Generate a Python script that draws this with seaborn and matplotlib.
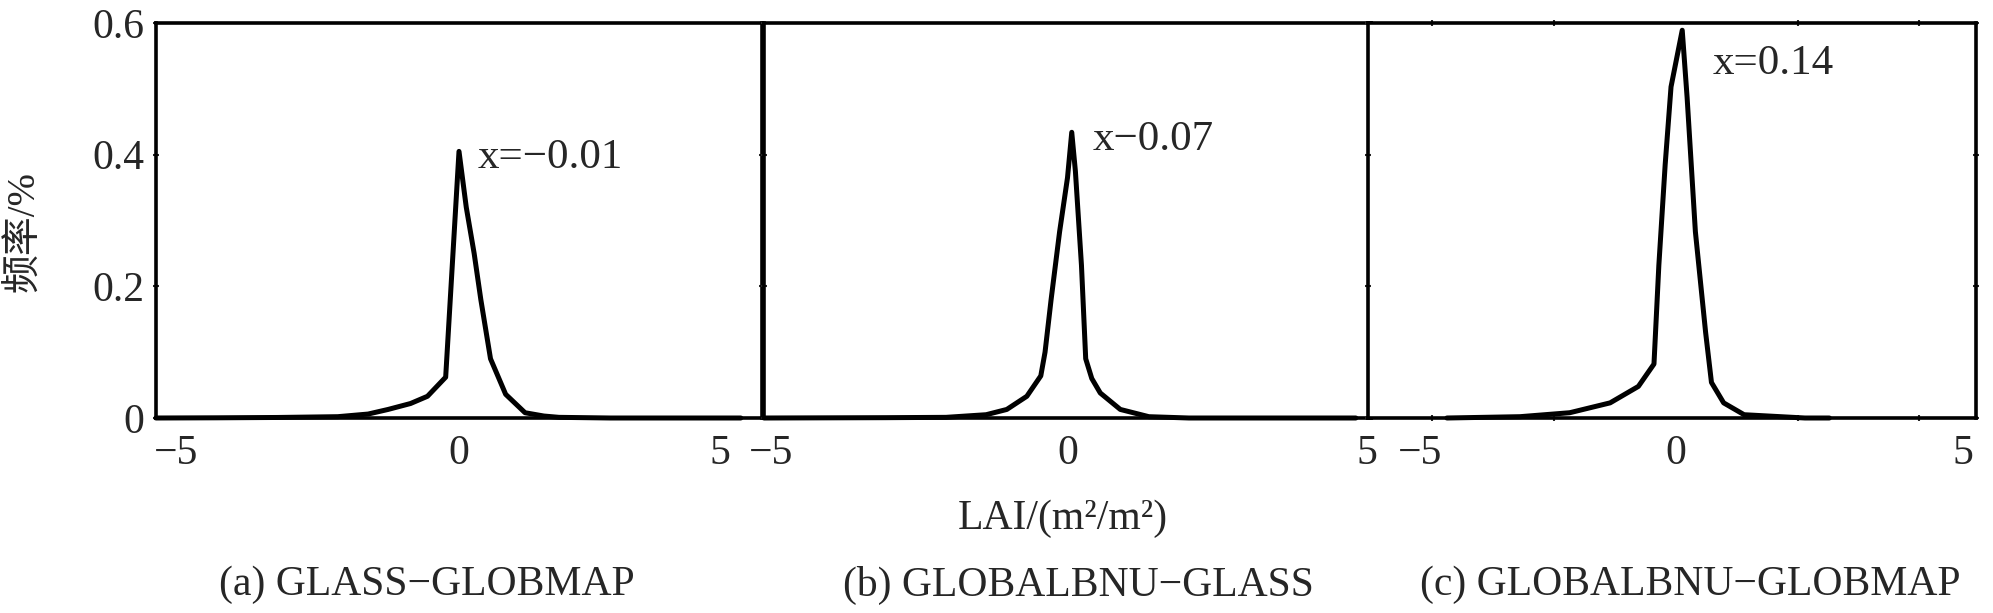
import numpy as np
import pandas as pd
import matplotlib
matplotlib.use('Agg')
import matplotlib.pyplot as plt
import seaborn as sns

# LAI difference frequency curves
x_a = [-5, -4, -3, -2, -1.5, -1.17, -0.8, -0.52, -0.22, 0, 0.12, 0.25, 0.36, 0.52, 0.77, 1.09, 1.4, 1.65, 2.5, 4.65]
y_a = [0, 0.0003, 0.0008, 0.002, 0.006, 0.013, 0.022, 0.033, 0.062, 0.405, 0.32, 0.25, 0.18, 0.09, 0.036, 0.008, 0.003, 0.001, 0, 0]

x_b = [-5, -3, -2, -1.34, -1.0, -0.67, -0.44, -0.37, -0.27, -0.13, 0, 0.07, 0.13, 0.23, 0.3, 0.4, 0.54, 0.87, 1.34, 2, 4.75]
y_b = [0, 0.0005, 0.001, 0.005, 0.013, 0.033, 0.064, 0.1, 0.18, 0.283, 0.365, 0.434, 0.375, 0.232, 0.09, 0.06, 0.038, 0.013, 0.002, 0, 0]

x_c = [-4.7, -3.2, -2.18, -1.35, -0.77, -0.45, -0.35, -0.22, -0.1, 0.13, 0.23, 0.4, 0.61, 0.73, 0.98, 1.4, 2.65, 3.15]
y_c = [0, 0.002, 0.008, 0.023, 0.048, 0.082, 0.232, 0.385, 0.503, 0.589, 0.487, 0.283, 0.13, 0.054, 0.023, 0.005, 0, 0]

peak_labels = ['x=\u22120.01', 'x\u22120.07', 'x=0.14']
captions = ['(a) GLASS\u2212GLOBMAP', '(b) GLOBALBNU\u2212GLASS', '(c) GLOBALBNU\u2212GLOBMAP']
y_ticks = [0, 0.2, 0.4, 0.6]
y_ticklabels = ['0', '0.2', '0.4', '0.6']

sns.set_theme(style='ticks')
plt.rcParams['font.family'] = ['Liberation Serif', 'Noto Sans CJK SC']
plt.rcParams['axes.unicode_minus'] = True

W, H = 1993, 613
fig = plt.figure(figsize=(W / 100, H / 100), dpi=100)

# axes boxes in pixels: left, right
boxes = [(156, 762), (764, 1371), (1368, 1976)]
top_px, bot_px = 23, 418

xlims = [(-5, 5), (-5, 5), (-6.32, 6.16)]
label_pos = [[-4.67, 0, 4.31], [-4.88, 0, 4.93], [-5.25, 0, 5.9]]
mark_pos = [[0], [0], [-5, -2.5, 0, 2.5, 5]]
note_pos = [(0.31, 0.395), (0.41, 0.422), (0.76, 0.538)]
caption_x = [427, 1078, 1690]

curves = [(x_a, y_a), (x_b, y_b), (x_c, y_c)]

for i, ((l, r), (xs, ys)) in enumerate(zip(boxes, curves)):
    ax = fig.add_axes([l / W, 1 - bot_px / H, (r - l) / W, (bot_px - top_px) / H])
    df = pd.DataFrame({'x': xs, 'y': ys})
    sns.lineplot(data=df, x='x', y='y', ax=ax, color='black', linewidth=3.6,
                 clip_on=False, zorder=3)
    ax.set_xlim(*xlims[i])
    ax.set_ylim(0, 0.6)
    for s in ax.spines.values():
        s.set_linewidth(2.6)
        s.set_color('black')

    # labels (no tick line) and small tick marks
    ax.set_xticks(label_pos[i])
    ax.set_xticklabels(['\u22125', '0', '5'], fontsize=30)
    ax.set_xticks(mark_pos[i], minor=True)
    ax.tick_params(axis='x', which='major', length=0, pad=12)
    ax.tick_params(axis='x', which='minor', length=5, width=1.5, direction='inout',
                   top=True, bottom=True)

    ax.set_yticks(y_ticks)
    ax.tick_params(axis='y', which='major', length=5, width=1.5, direction='inout',
                   left=True, right=True, pad=6)
    if i == 0:
        ax.set_yticklabels(y_ticklabels, fontsize=30)
    else:
        ax.set_yticklabels([])

    ax.set_xlabel('')
    ax.set_ylabel('')
    ax.text(note_pos[i][0], note_pos[i][1], peak_labels[i], fontsize=31,
            ha='left', va='center')
    fig.text(caption_x[i] / W, 1 - 585 / H, captions[i], fontsize=30,
             ha='center', va='center')

fig.text(1063 / W, 1 - 519 / H, 'LAI/(m\u00b2/m\u00b2)', fontsize=30, ha='center', va='center')
fig.text(25 / W, 1 - 232 / H, '频率/%', fontsize=28, rotation=90, ha='center', va='center')

fig.savefig('out.png', dpi=100, facecolor='white')
